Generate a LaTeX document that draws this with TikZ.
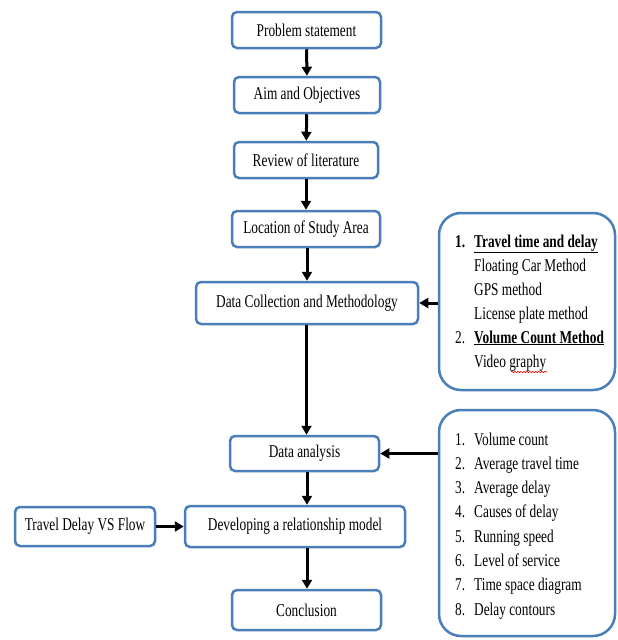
\documentclass[tikz,border=0pt]{standalone}
\usepackage{fontspec}
\setmainfont{Liberation Serif}[FakeStretch=0.74]
\usetikzlibrary{arrows.meta,decorations.pathmorphing}
\definecolor{boxblue}{HTML}{4A7EBB}
\tikzset{
  box/.style={draw=boxblue, line width=2.5pt, fill=white, rounded corners=5pt,
    align=center, inner sep=2pt, font=\fontsize{18}{20}\selectfont},
  bigbox/.style={draw=boxblue, line width=2.5pt, fill=white, rounded corners=22pt},
  arr/.style={draw=black, line width=3pt, -{Triangle[length=9pt,width=10pt]}},
  item/.style={anchor=base west, inner sep=0pt, font=\fontsize{18}{20}\selectfont},
}
\begin{document}
\begin{tikzpicture}[x=1pt,y=-1pt]
\useasboundingbox (0,0) rectangle (618,640);
\node[box, minimum width=149pt, minimum height=36pt] (ps) at (306.5,30) {Problem statement};
\node[box, minimum width=146pt, minimum height=36pt] (aim) at (307,95) {Aim and Objectives};
\node[box, minimum width=144pt, minimum height=36pt] (rev) at (306,160) {Review of literature};
\node[box, minimum width=148pt, minimum height=36pt] (loc) at (306,229) {Location of Study Area};
\node[box, minimum width=222pt, minimum height=42pt] (dc) at (307,303) {Data Collection and Methodology};
\node[box, minimum width=149pt, minimum height=35pt] (da) at (304.5,453.5) {Data analysis};
\node[box, minimum width=220pt, minimum height=41pt] (dev) at (295,526.5) {Developing a relationship model};
\node[box, minimum width=149pt, minimum height=40pt] (con) at (306.5,610) {Conclusion};
\node[box, minimum width=140pt, minimum height=39pt] (tdf) at (85,526.5) {Travel Delay VS Flow};

\node[bigbox, minimum width=176pt, minimum height=177pt] (r1) at (527,301.5) {};
\node[bigbox, minimum width=176pt, minimum height=226pt] (r2) at (527,523) {};

% list 1
\node[item] (n1a) at (455,247) {\textbf{1.}};
\node[item] (t1a) at (474,247) {\textbf{\underline{Travel time and delay}}};
\node[item] (t1b) at (474,271) {Floating Car Method};
\node[item] (t1c) at (474,295) {GPS method};
\node[item] (t1d) at (474,319) {License plate method};
\node[item] (n1e) at (455,343) {2.};
\node[item] (t1e) at (474,343) {\textbf{\underline{Volume Count Method}}};
\node[item] (t1f) at (474,367) {Video graphy};
\draw[red, line width=0.6pt, decorate, decoration={snake, amplitude=0.8pt, segment length=3pt}] (511,372) -- (547,372);

% list 2
\foreach \i/\t [count=\k] in {1/Volume count, 2/Average travel time, 3/Average delay, 4/Causes of delay, 5/Running speed, 6/Level of service, 7/Time space diagram, 8/Delay contours}{
  \node[item] (n2-\k) at (455,{445+24.3*(\k-1)}) {\i.};
  \node[item] (t2-\k) at (474,{445+24.3*(\k-1)}) {\t};
}

\draw[arr] (ps) -- (aim);
\draw[arr] (aim) -- (rev);
\draw[arr] (rev) -- (loc);
\draw[arr] (loc.south -| dc.north) -- (dc.north);
\draw[arr] (dc.south -| da.north) ++(2,0) -- ([xshift=2pt]da.north);
\draw[arr] (da.south -| 307,0) -- (dev.north -| 307,0);
\draw[arr] (dev.south -| 307,0) -- (con.north -| 307,0);
\draw[arr] (tdf) -- (dev);
\draw[arr] (r1.west |- dc.east) -- (dc.east);
\draw[arr] (r2.west |- da.east) -- (da.east);
\end{tikzpicture}
\end{document}
